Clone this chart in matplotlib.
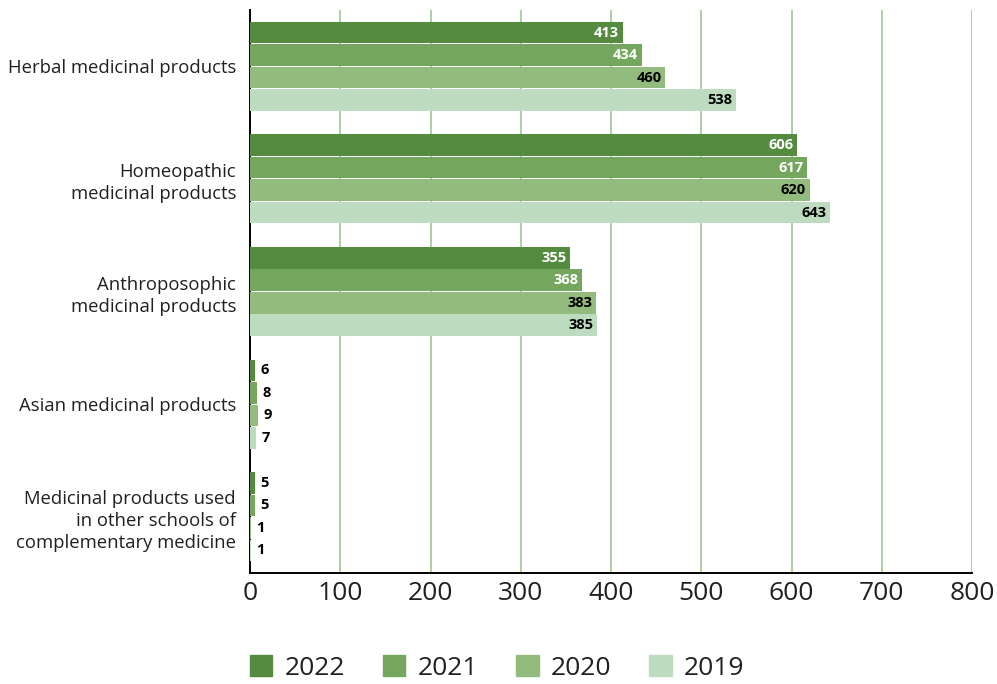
import matplotlib
matplotlib.use("Agg")
import matplotlib.pyplot as plt
import numpy as np

plt.rcParams['font.family'] = ['Open Sans', 'DejaVu Sans']

categories = ["Herbal medicinal products",
              "Homeopathic\nmedicinal products",
              "Anthroposophic\nmedicinal products",
              "Asian medicinal products",
              "Medicinal products used\nin other schools of\ncomplementary medicine"]
years = ["2022", "2021", "2020", "2019"]
v2022 = [413, 606, 355, 6, 5]
v2021 = [434, 617, 368, 8, 5]
v2020 = [460, 620, 383, 9, 1]
v2019 = [538, 643, 385, 7, 1]
series = [v2022, v2021, v2020, v2019]
colors = ["#548B3E", "#74A65E", "#93BB7E", "#BDDBBE"]
label_colors = ["white", "white", "black", "black"]
x_ticks = [0, 100, 200, 300, 400, 500, 600, 700, 800]

fig = plt.figure(figsize=(9.97, 6.84), dpi=100)
ax = fig.add_axes([250/997, 1-573/684, (972-250)/997, (573-10)/684])

n = len(years)
bh = 0.8 / n
y = np.arange(len(categories))
for i, (vals, c, lc) in enumerate(zip(series, colors, label_colors)):
    pos = y - 0.4 + bh*(i+0.5)
    ax.barh(pos, vals, height=bh*0.96, color=c, zorder=3)
    for p, v in zip(pos, vals):
        if v > 50:
            ax.text(v - 4, p, str(v), ha='right', va='center', fontsize=10.5,
                    fontweight='bold', color=lc, zorder=4)
        else:
            ax.text(v + 6, p, str(v), ha='left', va='center', fontsize=10.5,
                    fontweight='bold', color='black', zorder=4)

ax.set_xlim(0, 800)
ax.set_ylim(len(categories)-0.5, -0.5)
ax.set_xticks(x_ticks)
ax.set_xticklabels([str(t) for t in x_ticks], fontsize=19, color='#231F20')
ax.set_yticks(y)
ax.set_yticklabels(categories, fontsize=13.3, color='#231F20', ha='right',
                   linespacing=1.3)
ax.tick_params(axis='y', length=0, pad=10)
ax.tick_params(axis='x', length=0, pad=6)
ax.xaxis.grid(True, color='#9DC88D', linewidth=1.2, zorder=0)
ax.set_axisbelow(True)
for s in ['top', 'right']:
    ax.spines[s].set_visible(False)
ax.spines['left'].set_color('black')
ax.spines['bottom'].set_color('black')
ax.spines['left'].set_linewidth(1.4)
ax.spines['bottom'].set_linewidth(1.4)

handles = [plt.Rectangle((0, 0), 1, 1, color=c) for c in colors]
fig.legend(handles, years, loc='center', bbox_to_anchor=(497/997, 1-668/684),
           ncol=4, frameon=False, fontsize=19, handlelength=0.85, handleheight=0.85,
           columnspacing=1.45, handletextpad=0.45, labelcolor='#231F20')

fig.savefig("out.png", dpi=100)
